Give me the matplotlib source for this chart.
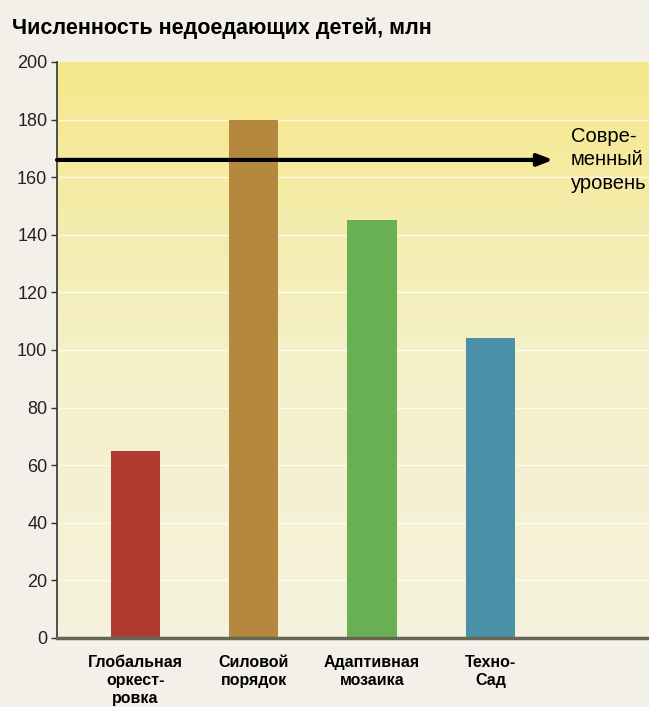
import matplotlib
matplotlib.use("Agg")
import matplotlib.pyplot as plt
import numpy as np
from matplotlib.colors import LinearSegmentedColormap

categories = ["Глобальная\nоркест-\nровка", "Силовой\nпорядок", "Адаптивная\nмозаика", "Техно-\nСад"]
values = [65, 180, 145, 104]
bar_colors = ["#b03a30", "#b5883f", "#69b052", "#4a91a8"]
current_level = 166
yticks = [0, 20, 40, 60, 80, 100, 120, 140, 160, 180, 200]
title = "Численность недоедающих детей, млн"
level_label = "Совре-\nменный\nуровень"

fig = plt.figure(figsize=(6.49, 7.07), dpi=100, facecolor="#f3f0ea")
ax = fig.add_axes([57/649, 1-638/707, 1-57/649, (638-62)/707])
ax.set_facecolor("#f3f0ea")

xlim = (-0.66, 4.34)
ylim = (0, 200)
cmap = LinearSegmentedColormap.from_list("bg", ["#f5f2dd", "#f4f0c8", "#f6e88a"])
grad = np.linspace(0, 1, 256).reshape(-1, 1)
ax.imshow(grad, cmap=cmap, aspect="auto", origin="lower",
          extent=[xlim[0], xlim[1], ylim[0], ylim[1]], zorder=0)

for t in yticks[1:-1]:
    ax.axhline(t, color="white", lw=1.0, alpha=0.8, zorder=1)

x = np.arange(len(categories))
ax.bar(x, values, width=0.415, color=bar_colors, zorder=2)

ax.annotate("", xy=(3.53, current_level), xytext=(xlim[0], current_level),
            arrowprops=dict(arrowstyle="-|>,head_length=0.9,head_width=0.35",
                            color="black", lw=3, shrinkA=0, shrinkB=0), zorder=3)
ax.text(3.68, current_level, level_label, fontsize=14.5, family="Liberation Sans",
        va="center", ha="left", linespacing=1.3, zorder=4, clip_on=False)

ax.set_xlim(*xlim)
ax.set_ylim(*ylim)
ax.set_yticks(yticks)
ax.set_yticklabels([str(t) for t in yticks], fontsize=13, family="Liberation Sans", color="#222222")
ax.set_xticks(x)
ax.set_xticklabels(categories, fontsize=11.5, fontweight="bold",
                   family="Liberation Sans", linespacing=1.25)
ax.tick_params(axis="x", length=0, pad=12)
ax.tick_params(axis="y", length=4, width=1, color="#333333", pad=3)
for s in ["top", "right"]:
    ax.spines[s].set_visible(False)
ax.spines["left"].set_color("#333333")
ax.spines["left"].set_linewidth(1.2)
ax.spines["bottom"].set_color("#666655")
ax.spines["bottom"].set_linewidth(2.5)

fig.text(12/649, 1-28/707, title, fontsize=15.5, fontweight="bold",
         family="Liberation Sans", va="center", ha="left")

fig.savefig("out.png", dpi=100, facecolor=fig.get_facecolor())
